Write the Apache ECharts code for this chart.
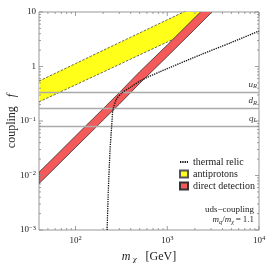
<!DOCTYPE html>
<html><head><meta charset="utf-8">
<script src="https://cdn.jsdelivr.net/npm/echarts@6/dist/echarts.min.js"></script>
<style>html,body{margin:0;padding:0;background:#fff}#c{width:266px;height:263px}</style>
</head><body><div id="c"></div>
<script>
// ---- data ----
const directMass  = [40, 60, 100, 150, 200, 300, 500, 1000, 2000, 3000, 4000];
const directUpper = [0.0115, 0.0225, 0.053, 0.104, 0.168, 0.331, 0.80, 2.48, 7.9, 15.5, 25];
const directLower = [0.0071, 0.0139, 0.0327, 0.064, 0.104, 0.204, 0.49, 1.53, 4.85, 9.6, 15.5];

const pbarMass  = [40, 100, 200, 400, 1000, 1700, 2400];
const pbarUpper = [0.54, 1.13, 1.98, 3.45, 7.2, 11, 14.5];
const pbarLower = [0.224, 0.46, 0.79, 1.37, 2.81, 4.27, 7.0];

const relicMass     = [221, 228, 238, 248, 256, 277, 319, 393, 527, 836, 2280, 4840, 10000];
const relicCoupling = [0.001, 0.0054, 0.0294, 0.081, 0.159, 0.243, 0.327, 0.412, 0.565, 0.803, 1.63, 2.70, 4.48];

const quarkNames     = ['uR', 'dR', 'qL'];
const quarkCouplings = [0.34, 0.166, 0.082];

const xTickMajor = [100, 1000, 10000];
const xTickMinor = [50, 60, 70, 80, 90, 200, 300, 400, 500, 600, 700, 800, 900,
                    2000, 3000, 4000, 5000, 6000, 7000, 8000, 9000];
const yTickMajor = [0.001, 0.01, 0.1, 1, 10];
const yTickMinor = [0.002, 0.003, 0.004, 0.005, 0.006, 0.007, 0.008, 0.009,
                    0.02, 0.03, 0.04, 0.05, 0.06, 0.07, 0.08, 0.09,
                    0.2, 0.3, 0.4, 0.5, 0.6, 0.7, 0.8, 0.9,
                    2, 3, 4, 5, 6, 7, 8, 9];

const X_MIN = 40, X_MAX = 10000, Y_MIN = 0.001, Y_MAX = 10;
const SERIF = '"Liberation Serif", "DejaVu Serif", serif';

// ---- helpers ----
function pow10Label(v) {
  const l = Math.log10(v), e = Math.round(l);
  if (Math.abs(l - e) > 0.02) return '';
  if (e === 0) return '1';
  if (e === 1) return '10';
  return '10{s|' + (e < 0 ? '\u2212' : '') + Math.abs(e) + '}';
}
const labelRich = { s: { fontSize: 6.5, fontFamily: SERIF, color: '#222', verticalAlign: 'top', lineHeight: 8, padding: [0, 0, 4, 0] } };

function bandRenderer(xs, up, lo, fill, stroke, dash) {
  return function (params, api) {
    const pts = [];
    for (let i = 0; i < xs.length; i++) pts.push(api.coord([xs[i], up[i]]));
    for (let i = xs.length - 1; i >= 0; i--) pts.push(api.coord([xs[i], lo[i]]));
    return { type: 'polygon', shape: { points: pts },
      style: { fill: fill, stroke: stroke, lineWidth: 0.8, lineDash: dash } };
  };
}

function tickRenderer(vals, isX, len) {
  return function (params, api) {
    const v = vals[params.dataIndex];
    let a, b;
    if (isX) { a = api.coord([v, Y_MIN]); b = api.coord([v, Y_MAX]);
      return { type: 'group', children: [
        { type: 'line', shape: { x1: a[0], y1: a[1], x2: a[0], y2: a[1] - len }, style: { stroke: '#888', lineWidth: 0.8 } },
        { type: 'line', shape: { x1: b[0], y1: b[1], x2: b[0], y2: b[1] + len }, style: { stroke: '#888', lineWidth: 0.8 } } ] };
    } else { a = api.coord([X_MIN, v]); b = api.coord([X_MAX, v]);
      return { type: 'group', children: [
        { type: 'line', shape: { x1: a[0], y1: a[1], x2: a[0] + len, y2: a[1] }, style: { stroke: '#888', lineWidth: 0.8 } },
        { type: 'line', shape: { x1: b[0], y1: b[1], x2: b[0] - len, y2: b[1] }, style: { stroke: '#888', lineWidth: 0.8 } } ] };
    }
  };
}
function tickSeries(vals, isX, len) {
  return { type: 'custom', silent: true, clip: false, z: 5,
    data: vals.map(v => isX ? [v, 1] : [100, v]),
    renderItem: tickRenderer(vals, isX, len) };
}

const chart = echarts.init(document.getElementById('c'), null, { renderer: 'canvas' });
chart.setOption({
  animation: false,
  backgroundColor: '#fff',
  grid: { left: 39, top: 12, right: 7, bottom: 33, show: true, borderColor: '#999', borderWidth: 1,
          containLabel: false, outerBoundsMode: 'none' },
  xAxis: {
    type: 'log', logBase: 10, min: X_MIN, max: X_MAX,
    axisLine: { show: false }, axisTick: { show: false }, splitLine: { show: false }, minorTick: { show: false },
    axisLabel: { formatter: pow10Label, rich: labelRich, fontFamily: SERIF, fontSize: 9, color: '#222', margin: 5, lineHeight: 11 },
    name: '{i|m}{s| \u03c7}   [GeV]', nameLocation: 'middle', nameGap: 18,
    nameTextStyle: { fontFamily: SERIF, fontSize: 12, color: '#222',
      rich: { i: { fontFamily: SERIF, fontSize: 12, fontStyle: 'italic', color: '#222' },
              s: { fontFamily: SERIF, fontSize: 9, fontStyle: 'italic', color: '#222', verticalAlign: 'bottom', padding: [5, 0, 0, 0] } } }
  },
  yAxis: {
    type: 'log', logBase: 10, min: Y_MIN, max: Y_MAX,
    axisLine: { show: false }, axisTick: { show: false }, splitLine: { show: false }, minorTick: { show: false },
    axisLabel: { formatter: pow10Label, rich: labelRich, fontFamily: SERIF, fontSize: 9, color: '#222', margin: 3, lineHeight: 11 }
  },
  legend: {
    orient: 'vertical', left: 174, top: 152, itemWidth: 8, itemHeight: 7, itemGap: 2,
    textStyle: { fontFamily: SERIF, fontSize: 10, color: '#222', lineHeight: 10, padding: [0, 0, 0, 0] },
    data: [
      { name: 'thermal relic', itemStyle: { opacity: 0 } },
      { name: 'antiprotons', icon: 'rect' },
      { name: 'direct detection', icon: 'rect' }
    ]
  },
  graphic: [
    { type: 'text', x: 12, y: 121, rotation: Math.PI / 2,
      style: { text: 'coupling   {i|f}', font: '12px ' + SERIF, fill: '#222',
        align: 'center', verticalAlign: 'middle', textAlign: 'center', textVerticalAlign: 'middle',
        rich: { i: { font: 'italic 12px ' + SERIF, fill: '#222' } } } },
    { type: 'text', x: 254, y: 210, style: { text: 'uds\u2212coupling', font: '9px ' + SERIF, fill: '#222',
        align: 'right', verticalAlign: 'middle', textAlign: 'right', textVerticalAlign: 'middle' } },
    { type: 'text', x: 254, y: 220, style: { text: '{i|m}{s|q}/{i|m}{s|\u03c7}\u2009=\u20091.1', font: '9px ' + SERIF, fill: '#222',
        align: 'right', verticalAlign: 'middle', textAlign: 'right', textVerticalAlign: 'middle',
        rich: { i: { font: 'italic 9px ' + SERIF, fill: '#222' }, s: { font: 'italic 6.5px ' + SERIF, fill: '#222', verticalAlign: 'bottom', padding: [4, 0, 0, 0] } } } }
  ],
  series: [
    { name: 'quarks', type: 'line', data: [], silent: true, z: 1,
      markLine: { silent: true, symbol: 'none', animation: false,
        lineStyle: { color: '#aaa', width: 1.3, type: 'solid' },
        label: { show: true, position: 'insideEndTop', distance: [2, 2],
          formatter: p => '{i|' + p.name[0] + '}{b|' + p.name[1] + '}',
          rich: { i: { fontFamily: SERIF, fontStyle: 'italic', fontSize: 9, color: '#333' },
                  b: { fontFamily: SERIF, fontStyle: 'italic', fontSize: 6.5, color: '#333', verticalAlign: 'bottom', padding: [4, 0, 0, 0] } } },
        data: quarkNames.map((n, i) => ({ name: n, yAxis: quarkCouplings[i] })) } },
    { name: 'antiprotons', type: 'custom', clip: true, z: 2,
      itemStyle: { color: '#ffff1a', borderColor: '#555', borderWidth: 0.8, borderType: 'dashed' },
      data: [[pbarMass[0], pbarUpper[0]]],
      renderItem: bandRenderer(pbarMass, pbarUpper, pbarLower, '#ffff1a', null, null) },
    { name: 'pbarUp', type: 'line', symbol: 'none', z: 3, silent: true,
      lineStyle: { color: '#444', width: 0.8, type: [2.5, 1.5] },
      data: pbarMass.map((m, i) => [m, pbarUpper[i]]) },
    { name: 'pbarLo', type: 'line', symbol: 'none', z: 3, silent: true,
      lineStyle: { color: '#444', width: 0.8, type: [2.5, 1.5] },
      data: pbarMass.map((m, i) => [m, pbarLower[i]]) },
    { name: 'direct detection', type: 'custom', clip: true, z: 4,
      itemStyle: { color: '#f55a5a', borderColor: '#333', borderWidth: 0.8 },
      data: [[directMass[0], directUpper[0]]],
      renderItem: bandRenderer(directMass, directUpper, directLower, '#f55a5a', '#333', null) },
    { name: 'thermal relic', type: 'line', symbol: 'none', z: 6, smooth: 0.25,
      lineStyle: { color: '#111', width: 1.3, type: [1.3, 1] }, itemStyle: { color: '#111' },
      data: relicMass.map((m, i) => [m, relicCoupling[i]]) },
    tickSeries(xTickMajor, true, 4), tickSeries(xTickMinor, true, 2),
    tickSeries(yTickMajor, false, 4), tickSeries(yTickMinor, false, 2)
  ]
});
</script></body></html>
